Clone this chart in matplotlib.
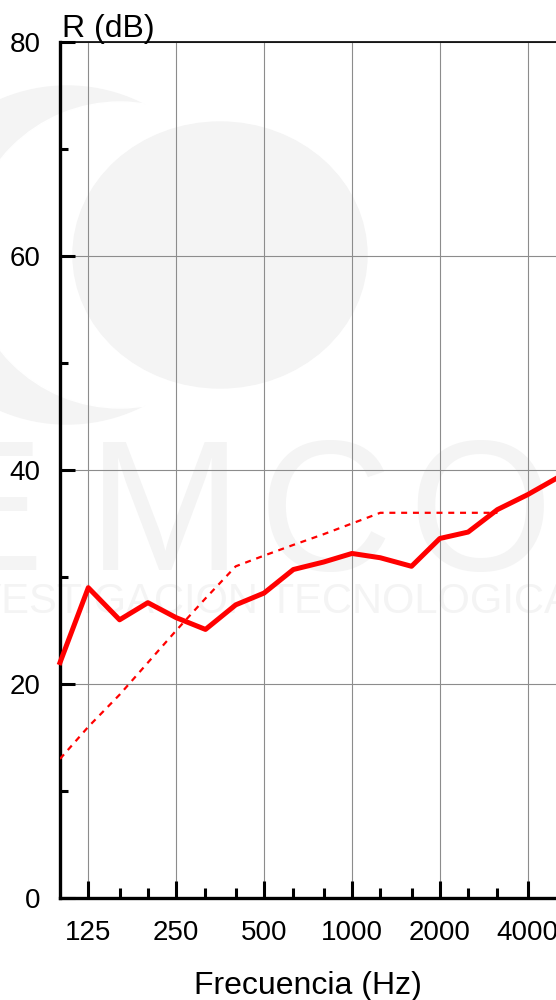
import matplotlib
matplotlib.use("Agg")
import matplotlib.pyplot as plt
from matplotlib.patches import Ellipse
from matplotlib.ticker import FixedLocator, NullFormatter

plt.rcParams['font.family'] = ['Liberation Sans', 'DejaVu Sans']

# bandas de tercio de octava (Hz)
frecuencias = [100, 125, 160, 200, 250, 315, 400, 500, 630, 800,
               1000, 1250, 1600, 2000, 2500, 3150, 4000, 5000]
# indice de reduccion sonora medido R (dB)
R_medido = [22.0, 29.0, 26.0, 27.6, 26.2, 25.1, 27.4, 28.5, 30.7, 31.4,
            32.2, 31.8, 31.0, 33.6, 34.2, 36.3, 37.7, 39.2]
# curva de referencia desplazada (100 - 3150 Hz)
frec_ref = frecuencias[:16]
R_ref = [13, 16, 19, 22, 25, 28, 31, 32, 33, 34, 35, 36, 36, 36, 36, 36]

octavas = [125, 250, 500, 1000, 2000, 4000]
etiquetas_x = ['125', '250', '500', '1000', '2000', '4000']
ticks_y = [0, 20, 40, 60, 80]

W, H = 556, 1000
fig = plt.figure(figsize=(W / 100, H / 100), dpi=100)

def px(x, y):
    # pixeles (desde arriba a la izquierda) -> coordenadas de figura
    return x / W, 1 - y / H

def ovalo(x, y, rx, ry, color, z):
    return Ellipse(px(x, y), 2 * rx / W, 2 * ry / H,
                   transform=fig.transFigure, color=color, zorder=z)

# ================================
# marca de agua (logo muy claro)
# ================================
gris = '#f4f4f4'
fig.patches.append(ovalo(67, 255, 169, 169, gris, -3))      # media luna
fig.patches.append(ovalo(120, 255, 153, 153, 'white', -2))
fig.patches.append(ovalo(220, 255, 147, 133, gris, -1))     # circulo
for letra, xc in zip('EMCO', [-18, 165, 325, 480]):
    fig.text(*px(xc, 570), letra, fontsize=133, color=gris,
             ha='center', va='baseline', zorder=-1)
fig.text(*px(572, 613), 'INVESTIGACION TECNOLOGICA', fontsize=30,
         color=gris, ha='right', va='baseline', zorder=-1)

# ================================
# grafico
# ================================
ax = fig.add_axes([60 / W, 102 / H, 496 / W, 856 / H])
ax.set_zorder(1)
ax.patch.set_alpha(0)

ax.plot(frecuencias, R_medido, color='red', lw=3.6, zorder=3, clip_on=False)
ax.plot(frec_ref, R_ref, color='red', lw=1.6, linestyle=(0, (2.7, 2.6)), zorder=3)

ax.set_xscale('log')
ax.set_xlim(100, 5000)
ax.set_ylim(0, 80)

ax.xaxis.set_major_locator(FixedLocator(octavas))
ax.set_xticklabels(etiquetas_x)
minor_x = [f for f in frecuencias if f not in octavas and f != 100 and f != 5000]
ax.xaxis.set_minor_locator(FixedLocator(minor_x))
ax.xaxis.set_minor_formatter(NullFormatter())
ax.set_yticks(ticks_y)
ax.yaxis.set_minor_locator(FixedLocator([10, 30, 50, 70]))

ax.grid(True, which='major', color='#8c8c8c', lw=0.8, zorder=1)

ax.tick_params(axis='x', which='major', direction='in', length=12, width=2.2,
               labelsize=20, pad=16)
ax.tick_params(axis='x', which='minor', direction='in', length=7, width=2.2)
ax.tick_params(axis='y', which='major', direction='in', length=11, width=2.2,
               labelsize=20, pad=14)
ax.tick_params(axis='y', which='minor', direction='in', length=6, width=2.2)

ax.spines['left'].set_linewidth(2.4)
ax.spines['bottom'].set_linewidth(2.4)
ax.spines['top'].set_linewidth(1.2)
ax.spines['right'].set_visible(False)

fig.text(*px(62, 37), 'R (dB)', fontsize=23, ha='left', va='baseline', zorder=3)
fig.text(*px(308, 994), 'Frecuencia (Hz)', fontsize=23,
         ha='center', va='baseline', zorder=3)

fig.savefig('out.png', dpi=100)
